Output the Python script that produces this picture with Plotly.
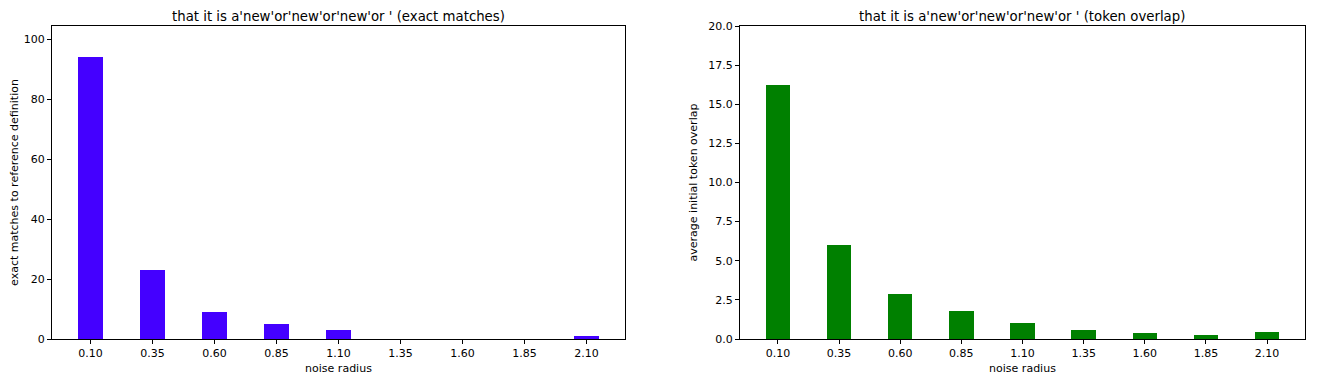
import plotly.graph_objects as go

radii = ["0.10", "0.35", "0.60", "0.85", "1.10", "1.35", "1.60", "1.85", "2.10"]
exact_matches = [94, 23, 9, 5, 3, 0, 0, 0, 1]
token_overlap = [16.25, 6.0, 2.88, 1.8, 1.02, 0.57, 0.37, 0.25, 0.43]
title_left = "that it is a'new'or'new'or'new'or ' (exact matches)"
title_right = "that it is a'new'or'new'or'new'or ' (token overlap)"

OFF = 8  # default page body margin
W, H = 1320 - OFF, 380 - OFF
fig = go.Figure()
fig.add_trace(go.Bar(x=list(range(len(radii))), y=exact_matches, width=0.4,
                     marker=dict(color="#4400ff", line=dict(width=0)),
                     xaxis="x", yaxis="y", showlegend=False))
fig.add_trace(go.Bar(x=list(range(len(radii))), y=token_overlap, width=0.4,
                     marker=dict(color="#008000", line=dict(width=0)),
                     xaxis="x2", yaxis="y2", showlegend=False))

font = dict(family="DejaVu Sans", size=11, color="black")
tfont = dict(family="DejaVu Sans", size=13.3, color="black")
def px(x):
    return (x - OFF) / W
def py(y):
    return 1 - (y - OFF) / H
left = (px(52), px(625))
right = (px(740), px(1305))
ydom = (py(339), py(26))

common_x = dict(range=[-0.62, 8.62], tickmode="array", tickvals=list(range(len(radii))),
                ticktext=radii, showgrid=False, zeroline=False, showline=True,
                linecolor="black", linewidth=1, mirror=True, ticks="outside",
                ticklen=4, tickcolor="black", tickfont=font, automargin=False,
                title=dict(text="noise radius", font=font, standoff=5))
common_y = dict(showgrid=False, zeroline=False, showline=True, linecolor="black",
                linewidth=1, mirror=True, ticks="outside", ticklen=4, automargin=False,
                tickcolor="black", tickfont=font)

fig.update_layout(
    width=W, height=H, margin=dict(l=0, r=0, t=0, b=0, autoexpand=False),
    plot_bgcolor="white", paper_bgcolor="white", bargap=0,
    xaxis=dict(domain=left, anchor="y", **common_x),
    yaxis=dict(domain=ydom, anchor="x", range=[0, 104.4], tickvals=[0, 20, 40, 60, 80, 100],
               title=dict(text="exact matches to reference definition", font=font, standoff=8),
               **common_y),
    xaxis2=dict(domain=right, anchor="y2", **common_x),
    yaxis2=dict(domain=ydom, anchor="x2", range=[0, 20],
                tickvals=[0, 2.5, 5, 7.5, 10, 12.5, 15, 17.5, 20], tickformat=".1f",
                title=dict(text="average initial token overlap", font=font, standoff=8),
                **common_y),
    annotations=[
        dict(text=title_left, x=sum(left) / 2, y=1, xref="paper", yref="paper",
             xanchor="center", yanchor="top", showarrow=False, font=tfont,
             borderpad=0),
        dict(text=title_right, x=sum(right) / 2, y=1, xref="paper", yref="paper",
             xanchor="center", yanchor="top", showarrow=False, font=tfont,
             borderpad=0),
    ],
)
fig.write_html("out.html")
